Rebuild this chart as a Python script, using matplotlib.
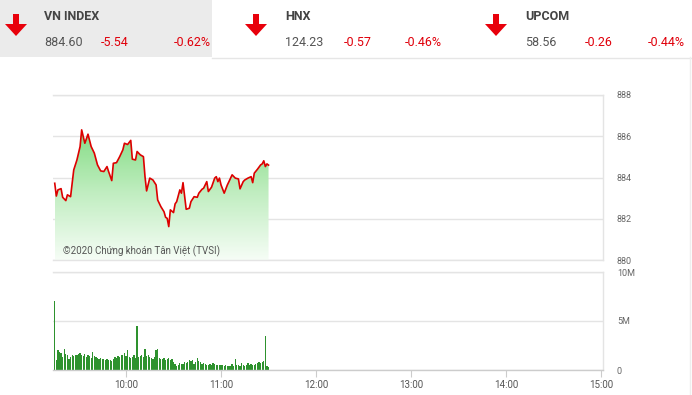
import numpy as np
import pandas as pd
import matplotlib.pyplot as plt
from matplotlib.patches import Rectangle, Polygon
from matplotlib.colors import LinearSegmentedColormap

plt.rcParams['font.family'] = ['Roboto', 'DejaVu Sans']

# ==================== 数据 ====================
INDEX_NAMES  = ['VN INDEX', 'HNX', 'UPCOM']
INDEX_VALUES = ['884.60', '124.23', '58.56']
INDEX_CHANGE = ['-5.54', '-0.57', '-0.26']
INDEX_PCT    = ['-0.62%', '-0.46%', '-0.44%']

PRICE_TIMES = [
    '09:15', '09:16', '09:17', '09:19', '09:20', '09:22', '09:23', '09:25', '09:27', '09:29',
    '09:31', '09:32', '09:34', '09:36', '09:38', '09:40', '09:42', '09:44', '09:46', '09:48',
    '09:49', '09:51', '09:52', '09:54', '09:56', '09:58', '09:59', '10:01', '10:03', '10:04',
    '10:06', '10:07', '10:09', '10:11', '10:12', '10:13', '10:15', '10:17', '10:19', '10:20',
    '10:22', '10:24', '10:25', '10:26', '10:27', '10:28', '10:30', '10:31', '10:32', '10:34',
    '10:35', '10:36', '10:38', '10:40', '10:41', '10:43', '10:45', '10:46', '10:48', '10:49',
    '10:51', '10:52', '10:54', '10:56', '10:57', '10:58', '10:59', '11:00', '11:02', '11:04',
    '11:05', '11:07', '11:09', '11:11', '11:12', '11:14', '11:15', '11:17', '11:19', '11:20',
    '11:21', '11:23', '11:25', '11:26', '11:27', '11:28', '11:29', '11:30',
]
PRICE_VALUES = [
    883.72, 883.10, 883.40, 883.46, 883.04, 882.88, 883.16, 883.07, 884.37, 884.85,
    885.50, 886.31, 885.66, 886.10, 885.50, 885.18, 884.61, 884.32, 884.29, 884.53,
    884.29, 883.85, 884.69, 884.72, 885.01, 885.34, 885.66, 885.60, 885.80, 884.89,
    884.85, 885.26, 885.10, 885.01, 884.04, 883.35, 883.97, 883.88, 883.64, 882.91,
    882.59, 882.34, 882.07, 882.02, 881.62, 882.43, 882.30, 882.72, 882.83, 883.40,
    883.24, 883.75, 882.46, 882.51, 882.83, 883.07, 883.04, 883.24, 883.43, 883.48,
    883.80, 883.32, 883.53, 883.97, 884.04, 883.80, 883.97, 883.64, 883.24, 883.64,
    883.80, 884.13, 883.97, 883.93, 883.45, 883.80, 883.88, 883.97, 884.04, 883.75,
    884.21, 884.40, 884.61, 884.66, 884.81, 884.53, 884.66, 884.60,
]

VOL_START = '09:15'   # 每分钟一根
VOLUMES_M = [
    7.0, 1.0, 2.0, 1.8, 1.7, 1.3, 2.1, 1.6, 1.5, 1.15,
    1.3, 1.5, 1.4, 1.55, 1.5, 1.6, 1.75, 1.5, 1.4, 1.6,
    1.3, 1.5, 1.4, 1.25, 1.85, 1.4, 1.3, 1.2, 1.1, 1.2,
    1.1, 1.15, 1.0, 1.1, 1.05, 1.0, 0.95, 1.1, 1.3, 1.2,
    1.4, 1.3, 1.5, 1.5, 1.75, 1.4, 2.0, 1.3, 1.2, 1.3,
    1.5, 1.2, 4.5, 1.3, 1.4, 1.5, 1.3, 2.1, 1.4, 1.55,
    1.3, 1.25, 1.1, 1.3, 2.0, 2.1, 1.2, 1.15, 1.1, 1.25,
    1.0, 1.1, 1.2, 1.0, 1.1, 0.8, 0.6, 0.45, 0.5, 0.7,
    0.65, 0.6, 0.85, 0.7, 0.8, 1.0, 0.9, 1.05, 0.6, 0.8,
    1.25, 0.9, 0.8, 0.6, 0.7, 0.65, 0.55, 0.5, 0.6, 0.5,
    0.7, 0.6, 0.5, 0.5, 0.55, 0.5, 0.5, 0.45, 0.5, 0.4,
    0.4, 0.45, 0.6, 0.45, 1.1, 0.5, 0.55, 0.4, 0.75, 0.5,
    0.45, 0.5, 0.7, 0.5, 0.6, 0.55, 0.5, 0.6, 0.75, 0.8,
    0.7, 0.85, 0.9, 3.5, 0.45, 0.35,
]

PRICE_TICKS = [880, 882, 884, 886, 888]
VOL_TICKS = [0, 5, 10]
VOL_TICK_LABELS = ['0', '5M', '10M']
TIME_TICKS = ['10:00', '11:00', '12:00', '13:00', '14:00', '15:00']
COPYRIGHT = '©2020 Chứng khoán Tân Việt (TVSI)'


def to_min(s):
    """'HH:MM' -> 距 9:00 的分钟数"""
    h, m = s.split(':')
    return (int(h) - 9) * 60 + int(m)


W, H = 692, 395
GRID = '#e4e4e4'
LABEL = '#666666'

fig = plt.figure(figsize=(W / 100, H / 100), dpi=100)

# ---- 顶部指数栏 ----
bg = fig.add_axes([0, 0, 1, 1], zorder=-5)
bg.set_xlim(0, W); bg.set_ylim(H, 0); bg.axis('off')
bg.add_patch(Rectangle((0, 0), 212, 57, color='#ebebeb', lw=0))
bg.plot([212, W], [57.5, 57.5], color='#e6e6e6', lw=1)
bg.plot([690, 690], [57, H], color='#eeeeee', lw=1)

blocks = [(5, 44, 101, 174), (245, 285, 344, 405), (485, 525, 585, 648)]
for i, (ax0, tx, cx, px) in enumerate(blocks):
    arrow = [(ax0 + 8, 14), (ax0 + 14, 14), (ax0 + 14, 24), (ax0 + 22, 24),
             (ax0 + 11, 36), (ax0, 24), (ax0 + 8, 24)]
    bg.add_patch(Polygon(arrow, closed=True, color='#e8000b', lw=0))
    bg.text(tx, 17, INDEX_NAMES[i], fontsize=9, fontweight='bold', color='#444444',
            va='center', ha='left')
    bg.text(tx, 42, INDEX_VALUES[i], fontsize=9, color='#555555', va='center', ha='left')
    bg.text(cx, 42, INDEX_CHANGE[i], fontsize=9, color='#e0000b', va='center', ha='left')
    bg.text(px, 42, INDEX_PCT[i], fontsize=9, color='#e0000b', va='center', ha='left')

# ---- 坐标区 ----
x_left, x_right = 13.9, 361.2
ax = fig.add_axes([53 / W, 1 - 260 / H, 550 / W, 165 / H])
axv = fig.add_axes([53 / W, 1 - 370 / H, 550 / W, 98 / H])

for a in (ax, axv):
    a.set_xlim(x_left, x_right)
    a.spines['left'].set_visible(False)
    for s in ('top', 'right', 'bottom'):
        a.spines[s].set_color(GRID)
        a.spines[s].set_linewidth(1)
    a.yaxis.tick_right()
    a.tick_params(axis='y', length=0, pad=10, labelsize=6.5, labelcolor=LABEL)
    a.grid(axis='y', color=GRID, lw=1)
    a.set_axisbelow(True)

# 价格
pt = [to_min(t) for t in PRICE_TIMES]
pv = np.array(PRICE_VALUES)
ax.set_ylim(880, 888)
ax.set_yticks(PRICE_TICKS)
ax.set_xticks([])

cmap = LinearSegmentedColormap.from_list('g', ['#f6fdf6', '#c2eec2', '#84dc84'])
grad = np.linspace(0, 1, 256).reshape(-1, 1)
img = ax.imshow(grad, cmap=cmap, aspect='auto', origin='lower',
                extent=[pt[0], pt[-1], 880, pv.max()], zorder=1)
poly = ax.fill_between(pt, pv, 880, color='none', lw=0)
img.set_clip_path(poly.get_paths()[0], transform=ax.transData)
ax.plot(pt, pv, color='#dd0000', lw=1.2, zorder=3)
ax.set_xlim(x_left, x_right)
ax.set_ylim(880, 888)

# 版权水印, 左下角
ax.text(10 / 550, 9 / 165, COPYRIGHT, fontsize=7, color='#555555', va='center', ha='left',
        transform=ax.transAxes, zorder=4)

# 成交量
vt = pd.date_range('2020-01-01 ' + VOL_START, periods=len(VOLUMES_M), freq='min')
vx = [(t.hour - 9) * 60 + t.minute for t in vt]
axv.bar(vx, VOLUMES_M, width=0.8, color='#2e922e', lw=0, zorder=2)
axv.set_ylim(0, 10)
axv.set_yticks(VOL_TICKS)
axv.set_yticklabels(VOL_TICK_LABELS)
axv.set_xticks([to_min(t) for t in TIME_TICKS])
axv.set_xticklabels(TIME_TICKS)
axv.tick_params(axis='x', length=5, color='#cccccc', pad=2, labelsize=7, labelcolor='#555555')
axv.spines['bottom'].set_color('#cccccc')

fig.savefig('out.png', dpi=100)
